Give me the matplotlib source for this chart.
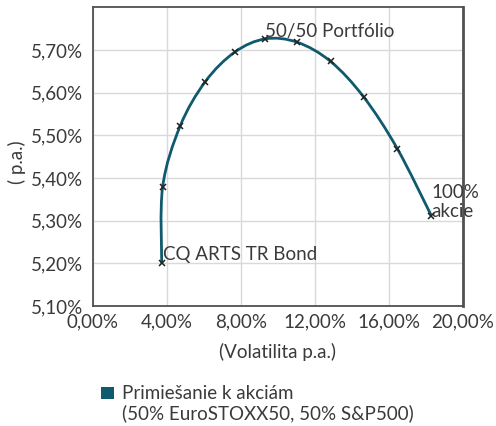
import matplotlib
matplotlib.use("Agg")
import matplotlib.pyplot as plt
import numpy as np
from matplotlib.path import Path
from matplotlib.patches import PathPatch, Rectangle
from matplotlib.ticker import FuncFormatter

# Data (volatility %, return %)
volatility = [3.73, 3.78, 4.72, 6.09, 7.68, 9.33, 11.06, 12.86, 14.66, 16.46, 18.30]
returns = [5.200, 5.379, 5.521, 5.626, 5.695, 5.726, 5.718, 5.673, 5.589, 5.469, 5.312]
x_ticks = [0, 4, 8, 12, 16, 20]
y_ticks = [5.10, 5.20, 5.30, 5.40, 5.50, 5.60, 5.70]
series_label = "Primiešanie k akciám\n(50% EuroSTOXX50, 50% S&P500)"
x_title = "(Volatilita p.a.)"
y_title = "( p.a.)"

plt.rcParams['font.family'] = ['Lato', 'DejaVu Sans']
text_color = "#3a3a3a"
line_color = "#0f5a6e"
fs = 13.5

fig = plt.figure(figsize=(4.96, 4.26), dpi=100)
ax = fig.add_axes([0.1869, 0.2817, 0.746, 0.7012])

ax.set_xlim(0, 20)
ax.set_ylim(5.10, 5.80)
ax.set_xticks(x_ticks)
ax.set_yticks(y_ticks)
fmt = FuncFormatter(lambda v, p: f"{v:.2f}%".replace('.', ','))
ax.xaxis.set_major_formatter(fmt)
ax.yaxis.set_major_formatter(fmt)
ax.tick_params(length=0, labelsize=fs, colors=text_color)
ax.tick_params(axis='y', pad=7)
ax.tick_params(axis='x', pad=5)
ax.grid(True, color="#d9d9d9", linewidth=1)
ax.set_axisbelow(True)
for s in ax.spines.values():
    s.set_color("#505050")
    s.set_linewidth(1.3)
ax.spines['right'].set_linewidth(2)

# Smoothed line through the data points (Catmull-Rom as cubic Bezier path)
pts = np.column_stack([volatility, returns])
sx, sy = 18.5, 428.0
P = pts * [sx, sy]
verts = [P[0]]
codes = [Path.MOVETO]
n = len(P)
for i in range(n - 1):
    p0 = P[i - 1] if i > 0 else P[i]
    p1 = P[i]
    p2 = P[i + 1]
    p3 = P[i + 2] if i + 2 < n else P[i + 1]
    c1 = p1 + (p2 - p0) / 6.0
    c2 = p2 - (p3 - p1) / 6.0
    verts += [c1, c2, p2]
    codes += [Path.CURVE4] * 3
verts = np.array(verts) / [sx, sy]
ax.add_patch(PathPatch(Path(verts, codes), facecolor='none', edgecolor=line_color, linewidth=2.0, zorder=3))
ax.plot(volatility, returns, linestyle='none', marker='x', markersize=4.5,
        markeredgewidth=1.1, color="#222222", zorder=4, clip_on=False)

ax.annotate("50/50 Portfólio", (volatility[5], returns[5]), xytext=(0, -1),
            textcoords='offset points', ha='left', va='bottom', fontsize=fs, color=text_color)
ax.annotate("CQ ARTS TR Bond", (volatility[0], returns[0]), xytext=(1, 0),
            textcoords='offset points', ha='left', va='bottom', fontsize=fs, color=text_color)
ax.annotate("100%\nakcie", (volatility[-1], returns[-1]), xytext=(0, -3),
            textcoords='offset points', ha='left', va='bottom', fontsize=fs, color=text_color,
            linespacing=1.15)

ax.set_xlabel(x_title, fontsize=fs, color=text_color)
ax.xaxis.label.set_va('center')
ax.xaxis.set_label_coords(0.5, -(352 - 306) / 298.7)
ax.set_ylabel(y_title, fontsize=fs, color=text_color)
ax.yaxis.label.set_va('center')
ax.yaxis.set_label_coords((17 - 92.7) / 370, 0.48)

# Legend
fig.patches.append(Rectangle((100.7 / 496, 1 - 399 / 426), 13.5 / 496, 12 / 426,
                             transform=fig.transFigure, facecolor=line_color,
                             edgecolor='none', figure=fig))
fig.text(122 / 496, 1 - 385 / 426, series_label, ha='left', va='top', fontsize=fs,
         color=text_color, linespacing=1.15)

fig.savefig("out.png", dpi=100)
